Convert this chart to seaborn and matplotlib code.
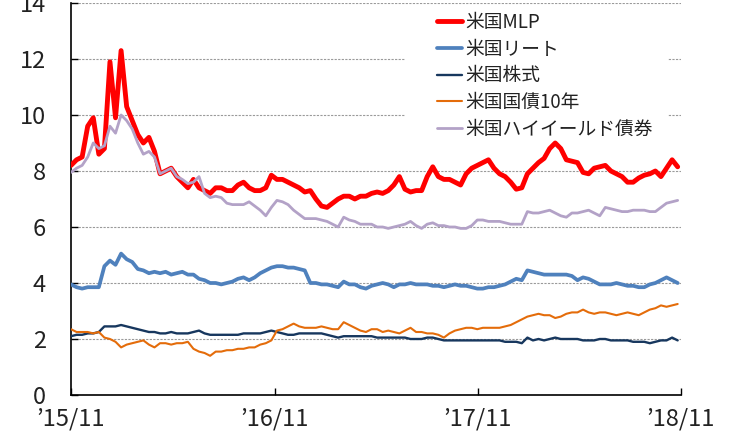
import numpy as np
import pandas as pd
import matplotlib
matplotlib.use("Agg")
import matplotlib.pyplot as plt
import matplotlib.patches as mpatches
import seaborn as sns

# ---- data (10-day sampling) ----
start_date = "2015-11-01"
step_days = 10

mlp = [8.2, 8.4, 8.5, 9.6, 9.9, 8.6, 8.8, 11.9, 9.9, 12.3,
       10.3, 9.8, 9.3, 9.0, 9.2, 8.7, 7.9, 8.0, 8.1, 7.8,
       7.6, 7.4, 7.7, 7.4, 7.3, 7.2, 7.4, 7.4, 7.3, 7.3,
       7.5, 7.6, 7.4, 7.3, 7.3, 7.4, 7.85, 7.7, 7.7, 7.6,
       7.5, 7.4, 7.25, 7.3, 7.0, 6.75, 6.7, 6.85, 7.0, 7.1,
       7.1, 7.0, 7.1, 7.1, 7.2, 7.25, 7.2, 7.3, 7.5, 7.8,
       7.35, 7.25, 7.3, 7.3, 7.8, 8.15, 7.8, 7.7, 7.7, 7.6,
       7.5, 7.9, 8.1, 8.2, 8.3, 8.4, 8.1, 7.9, 7.8, 7.6,
       7.35, 7.4, 7.9, 8.1, 8.3, 8.45, 8.8, 9.0, 8.8, 8.4,
       8.35, 8.3, 7.95, 7.9, 8.1, 8.15, 8.2, 8.0, 7.9, 7.8,
       7.6, 7.6, 7.75, 7.85, 7.9, 8.0, 7.8, 8.1, 8.4, 8.15]

reit = [3.95, 3.85, 3.8, 3.85, 3.85, 3.85, 4.6, 4.8, 4.65, 5.05,
        4.85, 4.75, 4.5, 4.45, 4.35, 4.4, 4.35, 4.4, 4.3, 4.35,
        4.4, 4.3, 4.3, 4.15, 4.1, 4.0, 4.0, 3.95, 4.0, 4.05,
        4.15, 4.2, 4.1, 4.2, 4.35, 4.45, 4.55, 4.6, 4.6, 4.55,
        4.55, 4.5, 4.45, 4.0, 4.0, 3.95, 3.95, 3.9, 3.85, 4.05,
        3.95, 3.95, 3.85, 3.8, 3.9, 3.95, 4.0, 3.95, 3.85, 3.95,
        3.95, 4.0, 3.95, 3.95, 3.95, 3.9, 3.9, 3.85, 3.9, 3.95,
        3.9, 3.9, 3.85, 3.8, 3.8, 3.85, 3.85, 3.9, 3.95, 4.05,
        4.15, 4.1, 4.45, 4.4, 4.35, 4.3, 4.3, 4.3, 4.3, 4.3,
        4.25, 4.1, 4.2, 4.15, 4.05, 3.95, 3.95, 3.95, 4.0, 3.95,
        3.9, 3.9, 3.85, 3.85, 3.95, 4.0, 4.1, 4.2, 4.1, 4.0]

stocks = [2.1, 2.15, 2.15, 2.2, 2.2, 2.25, 2.45, 2.45, 2.45, 2.5,
          2.45, 2.4, 2.35, 2.3, 2.25, 2.25, 2.2, 2.2, 2.25, 2.2,
          2.2, 2.2, 2.25, 2.3, 2.2, 2.15, 2.15, 2.15, 2.15, 2.15,
          2.15, 2.2, 2.2, 2.2, 2.2, 2.25, 2.3, 2.25, 2.2, 2.15,
          2.15, 2.2, 2.2, 2.2, 2.2, 2.2, 2.15, 2.1, 2.05, 2.1,
          2.1, 2.1, 2.1, 2.1, 2.1, 2.05, 2.05, 2.05, 2.05, 2.05,
          2.05, 2.0, 2.0, 2.0, 2.05, 2.05, 2.0, 1.95, 1.95, 1.95,
          1.95, 1.95, 1.95, 1.95, 1.95, 1.95, 1.95, 1.95, 1.9, 1.9,
          1.9, 1.85, 2.05, 1.95, 2.0, 1.95, 2.0, 2.05, 2.0, 2.0,
          2.0, 2.0, 1.95, 1.95, 1.95, 2.0, 2.0, 1.95, 1.95, 1.95,
          1.95, 1.9, 1.9, 1.9, 1.85, 1.9, 1.95, 1.95, 2.05, 1.95]

treasury = [2.35, 2.25, 2.25, 2.25, 2.2, 2.25, 2.05, 2.0, 1.9, 1.7,
            1.8, 1.85, 1.9, 1.95, 1.8, 1.7, 1.85, 1.85, 1.8, 1.85,
            1.85, 1.9, 1.65, 1.55, 1.5, 1.4, 1.55, 1.55, 1.6, 1.6,
            1.65, 1.65, 1.7, 1.7, 1.8, 1.85, 1.95, 2.3, 2.35, 2.45,
            2.55, 2.45, 2.4, 2.4, 2.4, 2.45, 2.4, 2.35, 2.35, 2.6,
            2.5, 2.4, 2.3, 2.25, 2.35, 2.35, 2.25, 2.3, 2.25, 2.2,
            2.3, 2.4, 2.25, 2.25, 2.2, 2.2, 2.15, 2.05, 2.2, 2.3,
            2.35, 2.4, 2.4, 2.35, 2.4, 2.4, 2.4, 2.4, 2.45, 2.5,
            2.6, 2.7, 2.8, 2.85, 2.9, 2.85, 2.85, 2.75, 2.8, 2.9,
            2.95, 2.95, 3.05, 2.95, 2.9, 2.95, 2.95, 2.9, 2.85, 2.9,
            2.95, 2.9, 2.85, 2.95, 3.05, 3.1, 3.2, 3.15, 3.2, 3.25]

high_yield = [7.95, 8.1, 8.2, 8.5, 9.0, 8.8, 8.9, 9.6, 9.35, 10.0,
              9.8, 9.5, 9.0, 8.6, 8.7, 8.5, 7.9, 8.0, 8.1, 7.8,
              7.7, 7.55, 7.6, 7.8, 7.2, 7.05, 7.1, 7.05, 6.85, 6.8,
              6.8, 6.8, 6.9, 6.75, 6.6, 6.4, 6.7, 6.95, 6.9, 6.8,
              6.6, 6.45, 6.3, 6.3, 6.3, 6.25, 6.2, 6.1, 6.0, 6.35,
              6.25, 6.2, 6.1, 6.1, 6.1, 6.0, 6.0, 5.95, 6.0, 6.05,
              6.1, 6.2, 6.05, 5.95, 6.1, 6.15, 6.05, 6.05, 6.0, 6.0,
              5.95, 5.95, 6.05, 6.25, 6.25, 6.2, 6.2, 6.2, 6.15, 6.1,
              6.1, 6.1, 6.55, 6.5, 6.5, 6.55, 6.6, 6.5, 6.4, 6.35,
              6.5, 6.5, 6.55, 6.6, 6.5, 6.4, 6.7, 6.65, 6.6, 6.55,
              6.55, 6.6, 6.6, 6.6, 6.55, 6.55, 6.7, 6.85, 6.9, 6.95]

series_names = ["米国MLP", "米国リート", "米国株式", "米国国債10年", "米国ハイイールド債券"]
series_values = [mlp, reit, stocks, treasury, high_yield]
series_colors = ["#FF0000", "#4F81BD", "#17375E", "#E46C0A", "#B3A2C7"]
series_widths = [3.5, 2.7, 1.7, 1.5, 2.0]

x_tick_dates = ["2015-11-01", "2016-11-01", "2017-11-01", "2018-11-01"]
x_tick_labels = ["’15/11", "’16/11", "’17/11", "’18/11"]
y_ticks = [0, 2, 4, 6, 8, 10, 12, 14]

# ---- build long table ----
dates = pd.date_range(start_date, periods=len(mlp), freq=f"{step_days}D")
frames = []
for name, vals in zip(series_names, series_values):
    frames.append(pd.DataFrame({"date": dates, "value": vals, "series": name}))
df = pd.concat(frames, ignore_index=True)

sns.set_style("white")
plt.rcParams["font.family"] = ["Noto Sans CJK JP", "DejaVu Sans"]

fig = plt.figure(figsize=(7.31, 4.32), dpi=100)
W, H = 731, 432
ax = fig.add_axes([71 / W, 1 - 395 / H, 610 / W, 392 / H])

for name, color, lw in zip(series_names, series_colors, series_widths):
    sub = df[df["series"] == name]
    sns.lineplot(data=sub, x="date", y="value", color=color, linewidth=lw,
                 label=name, ax=ax, zorder=3)

ax.set_xlim(pd.Timestamp(x_tick_dates[0]), pd.Timestamp(x_tick_dates[-1]))
ax.set_ylim(0, 14)
ax.set_xticks([pd.Timestamp(d) for d in x_tick_dates])
ax.set_xticklabels(x_tick_labels)
ax.set_yticks(y_ticks)
ax.set_xlabel("")
ax.set_ylabel("")

ax.set_axisbelow(True)
ax.yaxis.grid(True, color="#9a9a9a", linestyle=(0, (2.0, 1.2)), linewidth=0.8)
ax.xaxis.grid(False)

for s in ["top", "right"]:
    ax.spines[s].set_visible(False)
for s in ["left", "bottom"]:
    ax.spines[s].set_color("#000000")
    ax.spines[s].set_linewidth(1.2)

ax.tick_params(axis="y", direction="in", length=5, width=1, color="#000000",
               labelsize=17, labelcolor="#222222", pad=18, left=True)
ax.tick_params(axis="x", direction="in", length=5, width=1, color="#000000",
               labelsize=17, labelcolor="#222222", pad=9, bottom=True)

# white box behind legend (covers grid lines like the reference)
rect = mpatches.Rectangle(((405 - 71) / 610, (395 - 133) / 392),
                          (668 - 405) / 610, (133 - 8) / 392,
                          transform=ax.transAxes, facecolor="white",
                          edgecolor="none", zorder=1)
ax.add_patch(rect)

leg = ax.legend(loc="upper left", bbox_to_anchor=(437 / W, 1 - 12 / H),
                bbox_transform=fig.transFigure, frameon=False,
                fontsize=13.5, handlelength=1.35, handletextpad=0.15,
                labelspacing=0.3, borderpad=0, borderaxespad=0)
for t in leg.get_texts():
    t.set_color("#222222")

fig.savefig("out.png", dpi=100)
